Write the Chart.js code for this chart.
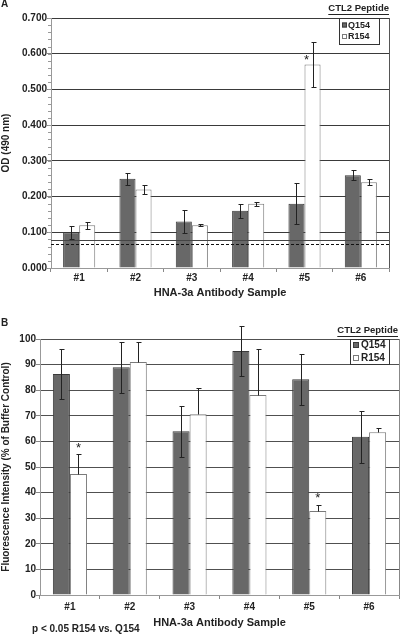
<!DOCTYPE html>
<html>
<head>
<meta charset="utf-8">
<script src="https://cdn.jsdelivr.net/npm/chart.js@4.4.1/dist/chart.umd.min.js"></script>
<style>
  html, body { margin: 0; padding: 0; background: #fff; }
  #wrapA { position: absolute; left: 0; top: 0; width: 400px; height: 300px; }
  #wrapB { position: absolute; left: 0; top: 300px; width: 400px; height: 334px; }
</style>
</head>
<body>
<div id="wrapA"><canvas id="chartA"></canvas></div>
<div id="wrapB"><canvas id="chartB"></canvas></div>
<script>
// sample names on the x axis
const samples = ['#1', '#2', '#3', '#4', '#5', '#6'];
const seriesNames = ['Q154', 'R154'];

// panel A - OD (490 nm)
const odQ154 = [0.100, 0.250, 0.130, 0.160, 0.180, 0.260];
const odQ154Err = [0.018, 0.017, 0.032, 0.020, 0.058, 0.013];
const odR154 = [0.120, 0.220, 0.120, 0.180, 0.570, 0.240];
const odR154Err = [0.010, 0.013, 0.002, 0.006, 0.062, 0.008];
const odCutoffs = [0.078, 0.067];   // solid, dashed

// panel B - fluorescence intensity (% of buffer control)
const fluQ154 = [86.3, 89.0, 64.0, 95.3, 84.3, 61.8];
const fluQ154Err = [9.9, 10.0, 10.0, 9.8, 10.0, 10.1];
const fluR154 = [47.3, 91.0, 70.6, 78.1, 32.8, 63.6];
const fluR154Err = [7.7, 8.0, 10.2, 18.1, 2.4, 1.7];

const FONT = '"Liberation Sans", Arial, Helvetica, sans-serif';
Chart.defaults.font.family = FONT;
Chart.defaults.font.weight = 'bold';
Chart.defaults.color = '#222';

const Q_FILL = '#686868', Q_EDGE = '#3a3a3a';
const R_FILL = '#ffffff', R_EDGE = '#7a7a7a';

function makeDatasets(q, r) {
    return [
        { label: seriesNames[0], data: q, backgroundColor: Q_FILL, borderColor: Q_EDGE, borderWidth: 1,
          barPercentage: 1.0, categoryPercentage: 0.57 },
        { label: seriesNames[1], data: r, backgroundColor: R_FILL, borderColor: R_EDGE, borderWidth: 1,
          barPercentage: 1.0, categoryPercentage: 0.57 }
    ];
}

// everything Excel drew on top of the bars: error bars, stars, legend, notes
function makeExtras(cfg) {
    return {
        id: 'extras',
        beforeDatasetsDraw(chart) {
            const { ctx, chartArea: a } = chart;
            ctx.save();
            ctx.strokeStyle = cfg.frameColor;
            ctx.lineWidth = 1;
            ctx.beginPath();
            ctx.moveTo(Math.round(a.right) + 0.5, a.top);
            ctx.lineTo(Math.round(a.right) + 0.5, a.bottom);
            ctx.stroke();
            // minor ticks on the y axis
            if (cfg.minorStep) {
                const y = chart.scales.y;
                ctx.strokeStyle = '#999';
                ctx.beginPath();
                for (let v = 0; v <= y.max + 1e-9; v += cfg.minorStep) {
                    const py = Math.round(y.getPixelForValue(v)) + 0.5;
                    ctx.moveTo(a.left - 3, py);
                    ctx.lineTo(a.left, py);
                }
                ctx.stroke();
            }
            ctx.restore();
        },
        afterDatasetsDraw(chart) {
            const { ctx, chartArea: a } = chart;
            const y = chart.scales.y;
            ctx.save();

            // cutoff lines
            (cfg.refLines || []).forEach(rl => {
                const py = Math.round(y.getPixelForValue(rl.value)) + 0.5;
                ctx.strokeStyle = rl.color;
                ctx.setLineDash(rl.dash);
                ctx.beginPath();
                ctx.moveTo(a.left, py);
                ctx.lineTo(a.right, py);
                ctx.stroke();
            });
            ctx.setLineDash([]);

            // error bars
            ctx.strokeStyle = '#222';
            ctx.lineWidth = 1;
            chart.data.datasets.forEach((ds, di) => {
                const meta = chart.getDatasetMeta(di);
                meta.data.forEach((bar, i) => {
                    const v = ds.data[i], e = cfg.errors[di][i];
                    const x = Math.round(bar.x) + 0.5;
                    const top = Math.round(y.getPixelForValue(v + e)) + 0.5;
                    const bot = Math.round(y.getPixelForValue(cfg.upOnly[di] ? v : v - e)) + 0.5;
                    ctx.beginPath();
                    ctx.moveTo(x, top); ctx.lineTo(x, bot);
                    ctx.moveTo(x - 2, top); ctx.lineTo(x + 3, top);
                    if (!cfg.upOnly[di]) { ctx.moveTo(x - 2, bot); ctx.lineTo(x + 3, bot); }
                    ctx.stroke();
                });
            });

            // significance stars
            ctx.fillStyle = '#222';
            ctx.font = 'normal 13px ' + FONT;
            ctx.textAlign = 'center';
            ctx.textBaseline = 'middle';
            cfg.stars.forEach(s => {
                const ds = chart.data.datasets[s.ds];
                const bar = chart.getDatasetMeta(s.ds).data[s.idx];
                const v = ds.data[s.idx] + (s.aboveError ? cfg.errors[s.ds][s.idx] : 0);
                ctx.fillText('*', bar.x + s.dx, y.getPixelForValue(v) + s.dy);
            });

            // legend box
            const lg = cfg.legend;
            ctx.fillStyle = '#fff';
            ctx.fillRect(lg.x, lg.y, lg.w, lg.h);
            ctx.strokeStyle = '#333';
            ctx.strokeRect(lg.x + 0.5, lg.y + 0.5, lg.w, lg.h);
            ctx.font = 'bold ' + lg.size + 'px ' + FONT;
            ctx.textAlign = 'left';
            chart.data.datasets.forEach((ds, i) => {
                const cy = lg.y + lg.rowY[i];
                ctx.fillStyle = ds.backgroundColor;
                ctx.fillRect(lg.x + lg.boxX, cy - lg.box / 2, lg.box, lg.box);
                ctx.strokeStyle = ds.borderColor;
                ctx.strokeRect(lg.x + lg.boxX + 0.5, cy - lg.box / 2 + 0.5, lg.box - 1, lg.box - 1);
                ctx.fillStyle = '#222';
                ctx.fillText(ds.label, lg.x + lg.textX, cy + 0.5);
            });

            // "CTL2 Peptide" header, underlined
            const h = cfg.header;
            ctx.font = 'bold ' + h.size + 'px ' + FONT;
            ctx.textAlign = 'right';
            ctx.fillStyle = '#222';
            ctx.fillText(h.text, h.right, h.y);
            const tw = ctx.measureText(h.text).width;
            ctx.strokeStyle = '#222';
            ctx.beginPath();
            ctx.moveTo(h.right - tw, h.y + 6.5);
            ctx.lineTo(h.right, h.y + 6.5);
            ctx.stroke();

            // panel letter and notes
            ctx.textAlign = 'left';
            ctx.font = 'bold 10px ' + FONT;
            ctx.fillText(cfg.letter.text, cfg.letter.x, cfg.letter.y);
            (cfg.notes || []).forEach(n => {
                ctx.font = 'bold ' + n.size + 'px ' + FONT;
                ctx.fillText(n.text, n.x, n.y);
            });
            ctx.restore();
        }
    };
}

function makeOptions(o) {
    return {
        responsive: true,
        maintainAspectRatio: false,
        animation: false,
        layout: { padding: o.padding },
        plugins: { legend: { display: false }, tooltip: { enabled: false } },
        scales: {
            x: {
                grid: { drawOnChartArea: false, drawTicks: true, tickLength: 4, offset: true, color: '#888' },
                border: { color: '#999' },
                ticks: { font: { size: 10, weight: 'bold' }, padding: o.xPad, color: '#222' },
                title: { display: true, text: 'HNA-3a Antibody Sample', font: { size: 11, weight: 'bold' },
                         padding: { top: 0, bottom: o.xTitlePad }, color: '#222' },
                afterFit: s => { s.height = o.xHeight; }
            },
            y: {
                min: 0, max: o.yMax,
                grid: { color: o.gridColor, tickLength: 4, tickColor: '#888' },
                border: { color: '#999' },
                ticks: { stepSize: o.yStep, padding: 0, font: { size: 10, weight: 'bold' }, color: '#222',
                         callback: o.yFormat },
                title: { display: true, text: o.yTitle, font: { size: o.yTitleSize, weight: 'bold' },
                         padding: 0, color: '#222' },
                afterFit: s => { s.width = o.yWidth; }
            }
        }
    };
}

new Chart(document.getElementById('chartA'), {
    type: 'bar',
    data: { labels: samples, datasets: makeDatasets(odQ154, odR154) },
    options: makeOptions({
        padding: { top: 18, right: 11, left: 0, bottom: 0 },
        xHeight: 32, xPad: 0, xTitlePad: 0,
        yWidth: 51, yMax: 0.7, yStep: 0.1, gridColor: '#3a3a3a',
        yFormat: v => v.toFixed(3), yTitle: 'OD (490 nm)', yTitleSize: 10
    }),
    plugins: [makeExtras({
        frameColor: '#555',
        minorStep: 0.02,
        errors: [odQ154Err, odR154Err],
        upOnly: [false, false],
        refLines: [
            { value: odCutoffs[0], color: '#444', dash: [] },
            { value: odCutoffs[1], color: '#111', dash: [3, 2] }
        ],
        stars: [{ ds: 1, idx: 4, dx: -6, dy: -4, aboveError: false }],
        legend: { x: 339, y: 18, w: 40, h: 26, rowY: [7, 18.5], boxX: 3, box: 5, textX: 9, size: 9 },
        header: { text: 'CTL2 Peptide', right: 389, y: 8, size: 9.5 },
        letter: { text: 'A', x: 1, y: 4 }
    })]
});

new Chart(document.getElementById('chartB'), {
    type: 'bar',
    data: { labels: samples, datasets: makeDatasets(fluQ154, fluR154) },
    options: makeOptions({
        padding: { top: 39, right: 1, left: 0, bottom: 0 },
        xHeight: 39, xPad: 2, xTitlePad: 4.5,
        yWidth: 40, yMax: 100, yStep: 10, gridColor: '#505050',
        yFormat: v => v, yTitle: 'Fluorescence Intensity (% of Buffer Control)', yTitleSize: 10
    }),
    plugins: [makeExtras({
        frameColor: '#888',
        minorStep: 0,
        errors: [fluQ154Err, fluR154Err],
        upOnly: [false, true],
        refLines: [],
        stars: [
            { ds: 1, idx: 0, dx: 0, dy: -6, aboveError: true },
            { ds: 1, idx: 4, dx: 0, dy: -6, aboveError: true }
        ],
        legend: { x: 350, y: 39, w: 39, h: 25, rowY: [6, 19], boxX: 3, box: 6, textX: 11, size: 10 },
        header: { text: 'CTL2 Peptide', right: 398, y: 30, size: 9.5 },
        letter: { text: 'B', x: 1, y: 23 },
        notes: [{ text: 'p < 0.05 R154 vs. Q154', x: 32, y: 329, size: 10 }]
    })]
});
</script>
</body>
</html>
